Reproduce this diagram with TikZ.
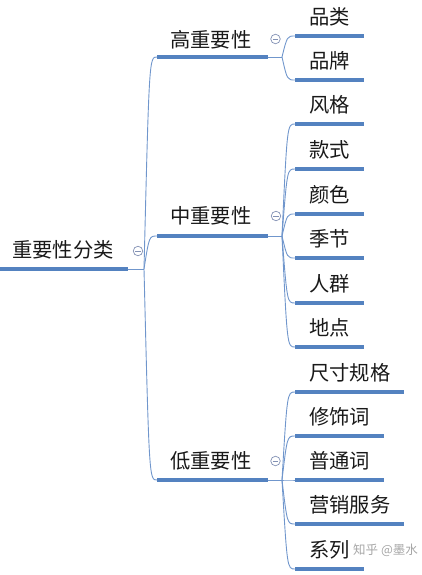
\documentclass[tikz,border=0pt]{standalone}
\usepackage{fontspec}
\setmainfont{Noto Sans CJK SC}
\usetikzlibrary{calc}
\definecolor{ulc}{RGB}{84,130,192}
\definecolor{thc}{RGB}{112,150,204}
\definecolor{cc}{RGB}{130,145,180}
\newcommand\brc[2]{\draw[conn] let \p1=(#1), \p2=(#2) in (\p1) .. controls ({\x1+0.4*(\x2-\x1)},\y2) .. (\p2);}
\begin{document}
\begin{tikzpicture}[x=1pt,y=-1pt,
  lbl/.style={anchor=west, inner sep=0pt, text=black!90, font=\fontsize{20.3}{24}\selectfont},
  uline/.style={draw=ulc, line width=3.4pt},
  conn/.style={draw=thc, line width=0.9pt},
  colbox/.style={circle, draw=cc, line width=0.7pt, minimum size=9.5pt, inner sep=0pt},
  colmin/.style={draw=cc, line width=0.7pt},
  wm/.style={anchor=west, inner sep=0pt, text=black!35, font=\fontsize{12.5}{15}\selectfont}]
\useasboundingbox (0,0) rectangle (421,575);

% root
\node[lbl] (r) at (12,250) {重要性分类};
\coordinate (r0) at (0,269);
\coordinate (r1) at (128,269);
\coordinate (rb) at (144,269);
\draw[uline] (r0) -- (r1);
\draw[conn] (r1) -- (rb);
\node[colbox] (cr) at (138,251) {};
\draw[colmin] ([xshift=-2.6pt]cr.center) -- ([xshift=2.6pt]cr.center);

% level 1
\node[lbl] (h) at (170,40) {高重要性};
\coordinate (h0) at (157,57); \coordinate (h1) at (268,57); \coordinate (hb) at (282,57);
\node[lbl] (m) at (170,216) {中重要性};
\coordinate (m0) at (157,236); \coordinate (m1) at (268,236); \coordinate (mb) at (282,236);
\node[lbl] (l) at (170,461) {低重要性};
\coordinate (l0) at (157,480); \coordinate (l1) at (268,480); \coordinate (lb) at (282,480);

\foreach \bb in {h,m,l}{
  \brc{rb}{\bb0}
  \draw[uline] (\bb0) -- (\bb1);
  \draw[conn] (\bb1) -- (\bb b);
}
\node[colbox] (ch) at (275.5,39) {};
\draw[colmin] ([xshift=-2.6pt]ch.center) -- ([xshift=2.6pt]ch.center);
\node[colbox] (cm) at (276,216) {};
\draw[colmin] ([xshift=-2.6pt]cm.center) -- ([xshift=2.6pt]cm.center);
\node[colbox] (cl) at (275.5,461) {};
\draw[colmin] ([xshift=-2.6pt]cl.center) -- ([xshift=2.6pt]cl.center);

% level 2
\foreach \nm/\pr/\yy/\ee/\tt in {
  a/hb/36/364/品类, b/hb/80/364/品牌,
  c/mb/124/364/风格, d/mb/169/364/款式, e/mb/214/364/颜色,
  f/mb/258/364/季节, g/mb/303/364/人群, k/mb/347/364/地点,
  n/lb/392/404/尺寸规格, o/lb/436/384/修饰词, p/lb/480/384/普通词,
  q/lb/524/404/营销服务, s/lb/569/364/系列}{
  \node[lbl] (t\nm) at (309,\yy-19) {\tt};
  \coordinate (u\nm0) at (295,\yy);
  \coordinate (u\nm1) at (\ee,\yy);
  \brc{\pr}{u\nm0}
  \draw[uline] (u\nm0) -- (u\nm1);
}

% watermark
\node[wm] (wmk) at ([xshift=3pt]ts.east) {知乎 @墨水};
\end{tikzpicture}
\end{document}
